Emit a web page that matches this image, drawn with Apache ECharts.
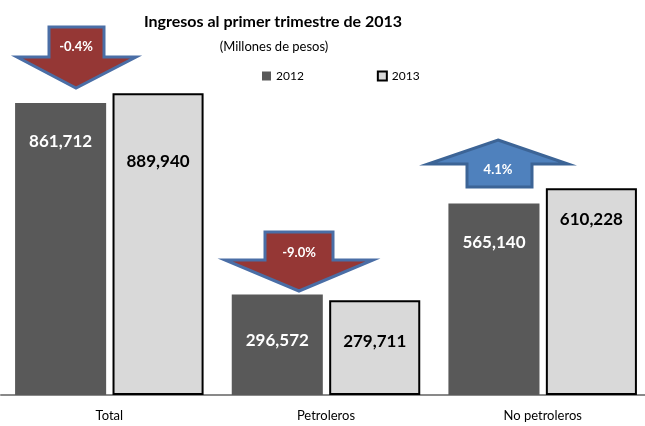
<!DOCTYPE html>
<html>
<head>
<meta charset="utf-8">
<script src="https://cdn.jsdelivr.net/npm/echarts@6/dist/echarts.min.js"></script>
<style>
  html, body { margin: 0; padding: 0; background: #fff; }
  #chart { width: 645px; height: 426px; }
</style>
</head>
<body>
<div id="chart"></div>
<script>
// datos
const categories = ['Total', 'Petroleros', 'No petroleros']
const values2012 = [861712, 296572, 565140]
const values2013 = [889940, 279711, 610228]
const changes = ['-0.4%', '-9.0%', '4.1%']

// distancia de la etiqueta al borde superior de cada barra
const labelDist2012 = [30, 38, 31]
const labelDist2013 = [60, 33, 23]

const FONT = 'Lato, "Noto Sans", sans-serif'
const fmt = v => v.toLocaleString('en-US')

function buildData (values, dists) {
  return values.map((v, i) => ({
    value: v,
    label: { distance: dists[i] }
  }))
}

// flechas de variacion (anotaciones)
const arrows = [
  { pts: [[49, 27], [104, 27], [104, 57], [136, 57], [76, 88], [17, 57], [49, 57]], fill: '#953735', stroke: '#4a6ea6', tx: 76, ty: 47 },
  { pts: [[265, 232], [333, 232], [333, 260], [373, 260], [299, 291], [225, 260], [265, 260]], fill: '#953735', stroke: '#4a6ea6', tx: 299, ty: 253 },
  { pts: [[498, 140], [568, 164], [532, 164], [532, 187], [467, 187], [467, 164], [428, 164]], fill: '#4f81bd', stroke: '#3c6496', tx: 498, ty: 170 }
]

const graphics = [
  {
    type: 'text', x: 273, y: 22,
    style: { text: 'Ingresos al primer trimestre de 2013', font: 'bold 16px ' + FONT, fill: '#000', align: 'center', verticalAlign: 'middle' }
  },
  {
    type: 'text', x: 274, y: 47,
    style: { text: '(Millones de pesos)', font: '13px ' + FONT, fill: '#000', align: 'center', verticalAlign: 'middle' }
  }
]
arrows.forEach((a, i) => {
  graphics.push({
    type: 'polygon', z: 10,
    shape: { points: a.pts },
    style: { fill: a.fill, stroke: a.stroke, lineWidth: 3 }
  })
  graphics.push({
    type: 'text', z: 11, x: a.tx, y: a.ty,
    style: { text: changes[i], font: 'bold 13px ' + FONT, fill: '#fff', align: 'center', verticalAlign: 'middle' }
  })
})

const chart = echarts.init(document.getElementById('chart'))
chart.setOption({
  animation: false,
  textStyle: { fontFamily: FONT },
  legend: {
    left: 257, top: 65,
    itemWidth: 9, itemHeight: 9, itemGap: 73,
    textStyle: { fontSize: 12, color: '#000' },
    data: [
      { name: '2012', icon: 'rect', itemStyle: { color: '#595959', borderWidth: 0 } },
      { name: '2013', icon: 'rect', itemStyle: { color: '#d9d9d9', borderColor: '#000', borderWidth: 2 } }
    ]
  },
  grid: { left: 1, width: 650, top: 56, bottom: 31, outerBoundsMode: 'none' },
  xAxis: {
    type: 'category',
    data: categories,
    axisLine: { lineStyle: { color: '#898989', width: 2 } },
    axisTick: { show: false },
    axisLabel: { fontSize: 13, color: '#000', margin: 14 }
  },
  yAxis: {
    type: 'value', min: 0, max: 1000000, show: false,
    splitLine: { show: false }
  },
  series: [
    {
      name: '2012', type: 'bar',
      barGap: '7%', barCategoryGap: '13%',
      data: buildData(values2012, labelDist2012),
      itemStyle: { color: '#595959' },
      label: {
        show: true, position: 'insideTop', color: '#fff',
        fontSize: 17, fontWeight: 'bold', formatter: p => fmt(p.value)
      }
    },
    {
      name: '2013', type: 'bar',
      data: buildData(values2013, labelDist2013),
      itemStyle: { color: '#d9d9d9', borderColor: '#000', borderWidth: 2 },
      label: {
        show: true, position: 'insideTop', color: '#000',
        fontSize: 17, fontWeight: 'bold', formatter: p => fmt(p.value)
      }
    }
  ],
  graphic: graphics
})
</script>
</body>
</html>
